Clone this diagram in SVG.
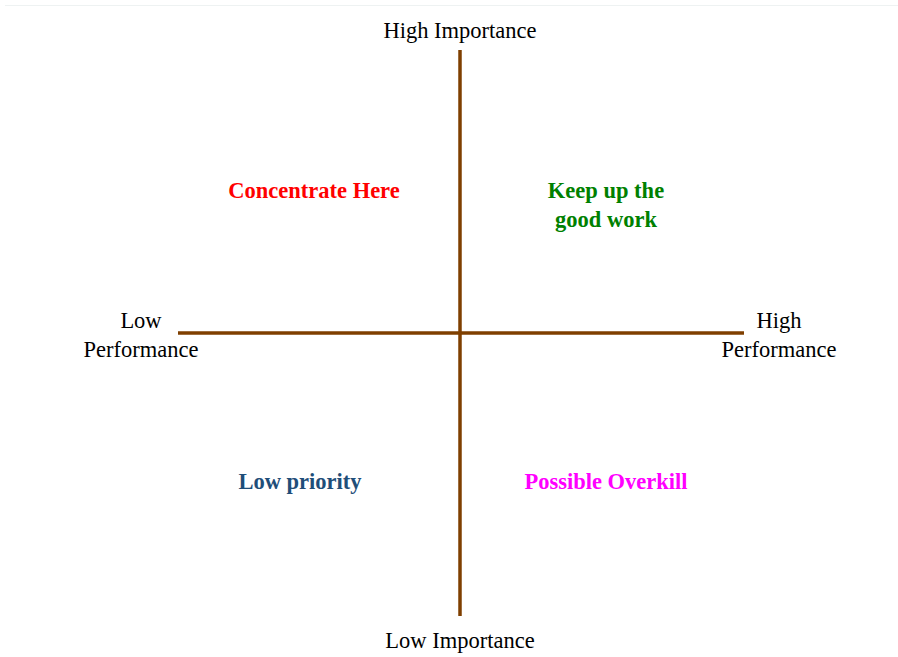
<svg xmlns="http://www.w3.org/2000/svg" width="898" height="657" viewBox="0 0 898 657">
<style>
.t{font-family:"Liberation Serif","Times New Roman",serif;font-size:22.5px;fill:#000;text-anchor:middle}
.b{font-family:"Liberation Serif","Times New Roman",serif;font-size:22.5px;font-weight:bold;text-anchor:middle}
.ax{stroke:#7f3f00;stroke-width:3.5;fill:none}
</style>
<rect width="898" height="657" fill="#fff"/>
<line x1="5" y1="5.5" x2="898" y2="5.5" stroke="#eef2f2" stroke-width="1"/>
<g id="connectors">
<line class="ax" x1="460" y1="50" x2="460" y2="616"/>
<line class="ax" x1="178" y1="333" x2="744" y2="333"/>
</g>
<g id="high-importance"><text class="t" x="460" y="38">High Importance</text></g>
<g id="low-importance"><text class="t" x="460" y="648">Low Importance</text></g>
<g id="low-performance"><text class="t" x="141" y="328">Low</text><text class="t" x="141" y="357">Performance</text></g>
<g id="high-performance"><text class="t" x="779" y="328">High</text><text class="t" x="779" y="357">Performance</text></g>
<g id="concentrate-here"><text class="b" x="314" y="198" fill="#ff0000">Concentrate Here</text></g>
<g id="keep-up"><text class="b" x="606" y="198" fill="#008000">Keep up the</text><text class="b" x="606" y="227" fill="#008000">good work</text></g>
<g id="low-priority"><text class="b" x="300" y="489" fill="#1f4e79">Low priority</text></g>
<g id="possible-overkill"><text class="b" x="606" y="489" fill="#ff00ff">Possible Overkill</text></g>
</svg>
